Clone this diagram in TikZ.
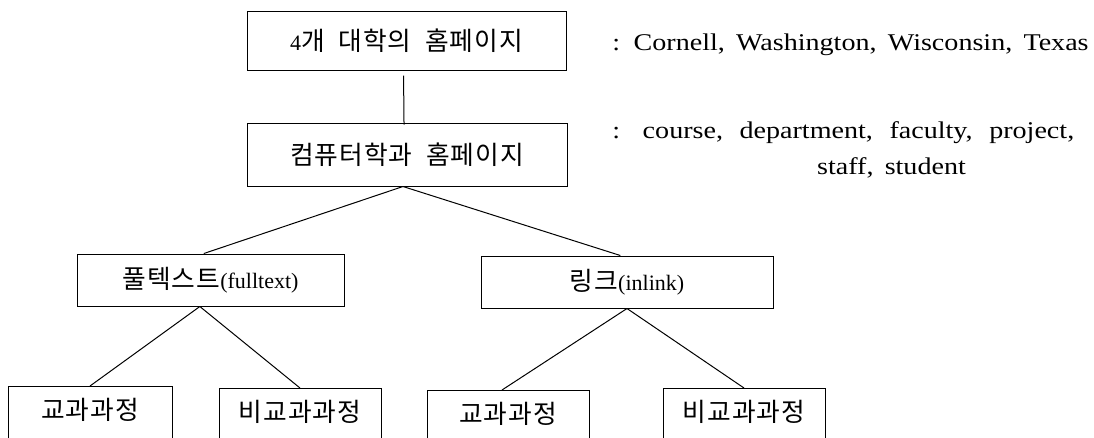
\documentclass[tikz,border=0pt]{standalone}
\usepackage{fontspec}
\setmainfont{Liberation Serif}[FakeStretch=1.17, WordSpace=1.6]
\newfontfamily\boxlatin{Liberation Serif}
\newfontfamily\kr{Noto Sans CJK KR}[Scale=1.17, LetterSpace=4, WordSpace=2]
\begin{document}
\begin{tikzpicture}[x=0.75pt, y=-0.75pt,
  every node/.style={font=\fontsize{18}{21}\selectfont},
  box/.style={draw, line width=0.75pt, inner sep=0pt, font=\boxlatin\fontsize{16.5}{19}\selectfont},
  lowbox/.style={draw, line width=0.75pt, anchor=north, inner sep=0pt,
    font=\boxlatin\fontsize{16.5}{19}\selectfont,
    text height=25pt, text depth=31pt, minimum width=121.5pt},
  conn/.style={line width=0.75pt},
  note/.style={inner sep=0pt}]
\fill[white] (0,0) rectangle (1094,437);
\useasboundingbox (0,0) rectangle (1094,437);
% main boxes
\node[box, minimum width=239.25pt, minimum height=44.25pt] (A) at (406.5,40.5) {4{\kr 개 대학의 홈페이지}};
\node[box, minimum width=240pt, minimum height=47.25pt] (B) at (407,154.5) {{\kr 컴퓨터학과 홈페이지}};
\node[box, minimum width=200.25pt, minimum height=39pt] (C) at (210.5,280) {{\kr 풀텍스트}(fulltext)};
\node[box, minimum width=219pt, minimum height=39pt] (D) at (627,282) {{\kr 링크}(inlink)};
% bottom boxes (cut by the page edge)
\node[lowbox, minimum width=123pt] (E) at (90,386) {{\kr 교과과정}};
\node[lowbox] (F) at (300,388) {{\kr 비교과과정}};
\node[lowbox] (G) at (508,390) {{\kr 교과과정}};
\node[lowbox] (H) at (744,388) {{\kr 비교과과정}};
% notes
\node[note, anchor=west] (t1) at (612,45) {: Cornell, Washington, Wisconsin, Texas};
\node[note, anchor=west] (t2) at (612,133) {:\hspace{17pt}course,\hspace{4pt} department,\hspace{4pt} faculty,\hspace{4pt} project,};
\node[note] (t3) at (891.5,168) {staff, student};
% connectors
\draw[conn, shorten <=3.75pt, shorten >=-1.5pt] ([xshift=-2.25pt]A.south) -- ([xshift=-2.25pt]B.north);
\draw[conn] ([xshift=-3pt]B.south) -- ([xshift=-5pt]C.north);
\draw[conn] ([xshift=-3pt]B.south) -- ([xshift=-5pt]D.north);
\draw[conn] ([xshift=-8pt]C.south) -- (E.north);
\draw[conn] ([xshift=-8pt]C.south) -- (F.north);
\draw[conn] (D.south) -- ([xshift=-4.5pt]G.north);
\draw[conn] (D.south) -- (H.north);
\end{tikzpicture}
\end{document}
